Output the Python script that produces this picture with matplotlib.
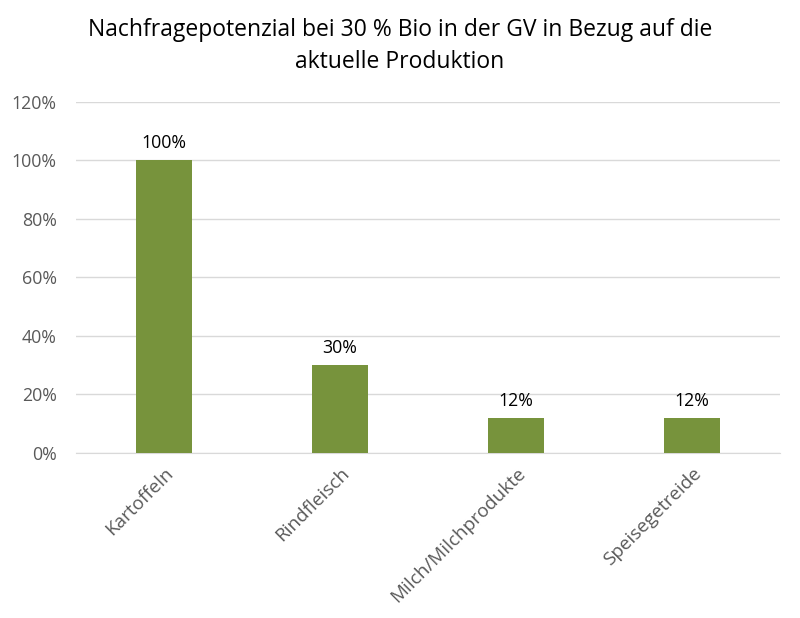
import matplotlib
matplotlib.use("Agg")
import matplotlib.pyplot as plt
from matplotlib.ticker import PercentFormatter

categories = ["Kartoffeln", "Rindfleisch", "Milch/Milchprodukte", "Speisegetreide"]
values = [1.00, 0.30, 0.12, 0.12]
value_labels = ["100%", "30%", "12%", "12%"]
title = "Nachfragepotenzial bei 30 % Bio in der GV in Bezug auf die\naktuelle Produktion"

plt.rcParams['font.family'] = ['Open Sans', 'DejaVu Sans']

fig = plt.figure(figsize=(8, 6.18), dpi=100)
ax = fig.add_axes([0.095, 0.267, 0.88, 0.568])

x = range(len(categories))
bars = ax.bar(x, values, width=0.32, color="#77933C", zorder=3)
for xi, v, lab in zip(x, values, value_labels):
    ax.annotate(lab, (xi, v), xytext=(0, 6), textcoords="offset points",
                ha="center", va="bottom", fontsize=12.8, color="#000000")

ax.set_xlim(-0.5, len(categories) - 0.5)
ax.set_ylim(0, 1.2)
ax.set_yticks([0, 0.2, 0.4, 0.6, 0.8, 1.0, 1.2])
ax.yaxis.set_major_formatter(PercentFormatter(1.0, decimals=0))
ax.grid(axis="y", color="#D9D9D9", linewidth=1, zorder=0)
for s in ["top", "right", "left"]:
    ax.spines[s].set_visible(False)
ax.spines["bottom"].set_color("#D9D9D9")
ax.tick_params(axis="both", length=0, colors="#595959", labelsize=12.8)
ax.tick_params(axis="y", pad=14)
ax.set_xticks(list(x))
ax.set_xticklabels(categories, rotation=45, ha="right", rotation_mode="anchor")
ax.tick_params(axis="x", pad=8, labelsize=13.6)

fig.text(0.5, 1 - 46 / 618, title, ha="center", va="center", fontsize=16.5,
         color="#000000", linespacing=1.45)

fig.savefig("out.png", dpi=100, facecolor="white")
